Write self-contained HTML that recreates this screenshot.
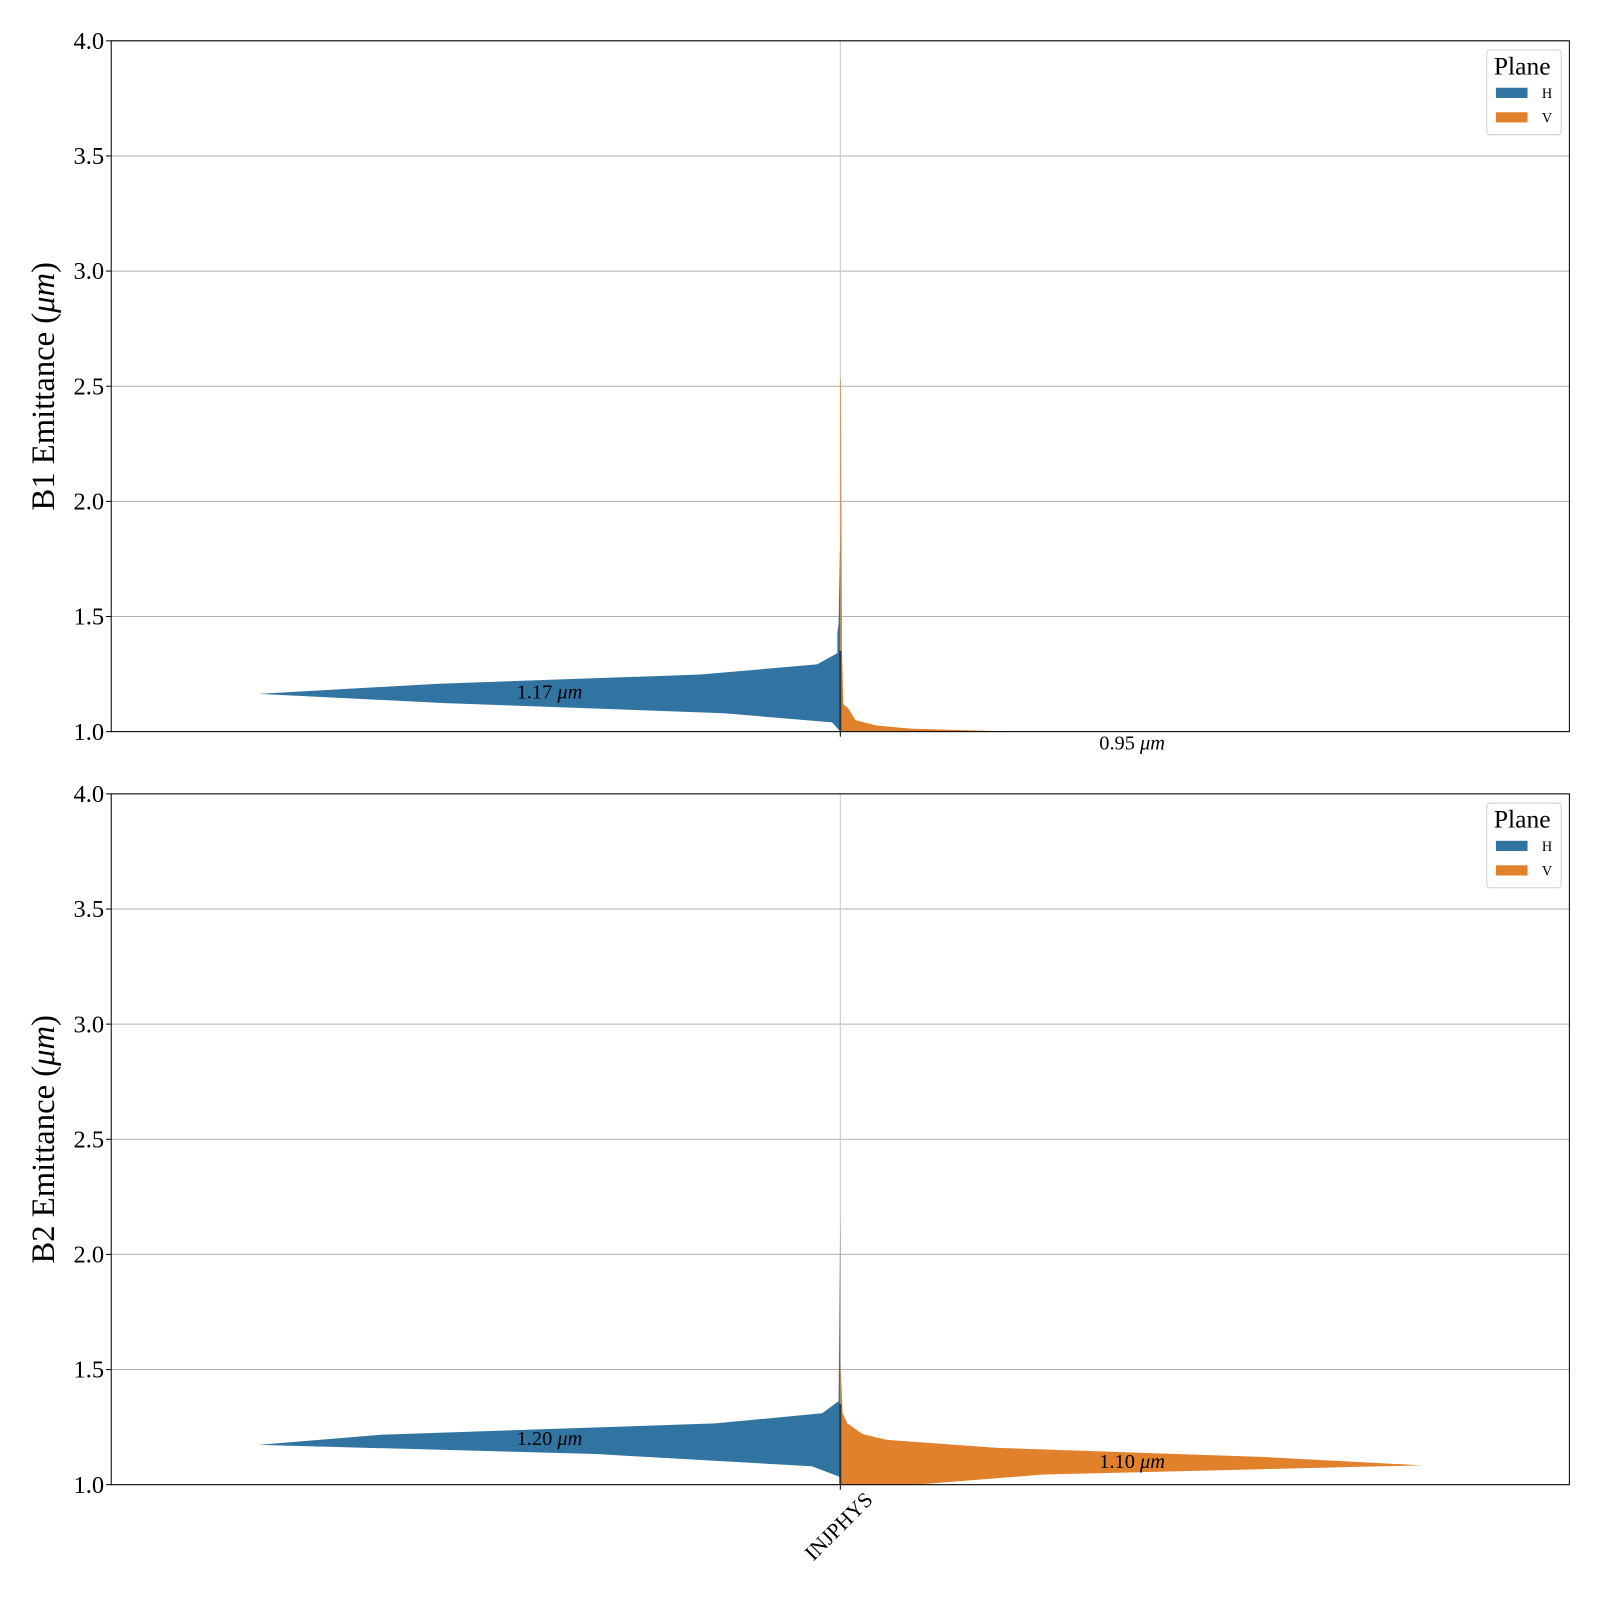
<!DOCTYPE html>
<html><head><meta charset="utf-8"><style>
body{margin:0;background:#fff}
svg{display:block;font-family:"Liberation Serif",serif}
</style></head><body>
<svg width="1600" height="1600" viewBox="0 0 1600 1600" xmlns="http://www.w3.org/2000/svg"><g id="chart" transform="scale(1.0204)"></g></svg>
<script>
const categories = ["INJPHYS"];
const yTicks = [1.0, 1.5, 2.0, 2.5, 3.0, 3.5, 4.0];
// half-violin outlines: [emittance value, relative density]
const b1H = [[1.00,0],[1.04,0.014],[1.08,0.20],[1.124,0.68],[1.164,1.0],[1.208,0.69],[1.248,0.24],[1.292,0.04],[1.341,0.005],[1.43,0.005],[1.47,0.003],[1.87,0]];
const b1V = [[0.90,0.30],[1.00,0.30],[1.013,0.12],[1.027,0.061],[1.05,0.026],[1.10,0.014],[1.12,0.005],[1.35,0.003],[2.53,0.001]];
const b2H = [[1.0,0],[1.035,0.002],[1.08,0.049],[1.133,0.42],[1.173,1.0],[1.217,0.79],[1.266,0.215],[1.31,0.031],[1.363,0.003],[1.6,0.002],[2.2,0]];
const b2V = [[0.95,0.05],[1.0,0.13],[1.044,0.35],[1.084,1.0],[1.12,0.73],[1.16,0.27],[1.195,0.079],[1.22,0.038],[1.266,0.012],[1.31,0.004],[1.55,0]];
const medianLabels = [["1.17","0.95"],["1.20","1.10"]];
const medianValues = [[1.17,0.95],[1.20,1.10]];
const panels = [{top:40,title:"B1 Emittance (",H:b1H,V:b1V},{top:778,title:"B2 Emittance (",H:b2H,V:b2V}];

const svg = document.getElementById('chart');
const NS = 'http://www.w3.org/2000/svg';
const L = 109, R = 1538, PH = 677;
const xScale = i => L + (R - L) * (i + 0.5) / categories.length;
const widthScale = d => d * 570;
function mk(tag, attrs, parent){const e=document.createElementNS(NS,tag);for(const k in attrs)e.setAttribute(k,attrs[k]);(parent||svg).appendChild(e);return e;}

panels.forEach((p, pi) => {
  const yScale = v => p.top + PH - (v - 1) / 3 * PH;
  const g = mk('g', {});
  
  
  const cid = 'clip' + pi;
  const cp = mk('clipPath', {id: cid}, g);
  mk('rect', {x: L, y: p.top, width: R - L, height: PH}, cp);
  yTicks.forEach(t => {
    const gl = mk('line', {x1: L, x2: R, y1: yScale(t), y2: yScale(t), stroke: '#b0b0b0', 'stroke-width': 1}, g);
    
    
    mk('line', {x1: L - 5, x2: L, y1: yScale(t), y2: yScale(t), stroke: '#000'}, g);
    const tl = mk('text', {x: L - 7, y: yScale(t) + 8, 'text-anchor': 'end', 'font-size': 24}, g);
    tl.textContent = t.toFixed(1);
    
    
  });
  categories.forEach((c, ci) => {
    const cx = xScale(ci);
    mk('line', {x1: cx, x2: cx, y1: p.top, y2: p.top + PH, stroke: '#c8c8c8', 'stroke-width': 1}, g);
    mk('line', {x1: cx, x2: cx, y1: p.top + PH, y2: p.top + PH + 5, stroke: '#000'}, g);
    const vg = mk('g', {'clip-path': 'url(#' + cid + ')'}, g);
    let ptsH = p.H.map(([v, d]) => (cx - widthScale(d)) + ',' + yScale(v));
    ptsH = [cx + ',' + yScale(p.H[0][0])].concat(ptsH, [cx + ',' + yScale(p.H[p.H.length - 1][0])]);
    const hp = mk('polygon', {points: ptsH.join(' '), fill: '#3274a1'}, vg);
    
    
    let ptsV = p.V.map(([v, d]) => (cx + widthScale(d)) + ',' + yScale(v));
    ptsV = [cx + ',' + yScale(p.V[0][0])].concat(ptsV, [cx + ',' + yScale(p.V[p.V.length - 1][0])]);
    const vp = mk('polygon', {points: ptsV.join(' '), fill: '#e1812c'}, vg);
    
    
    mk('line', {x1: cx, x2: cx, y1: yScale(1.35), y2: p.top + PH, stroke: '#333', 'stroke-width': 2}, vg);
    const lh = mk('text', {x: cx - 285, y: yScale(medianValues[pi][0]) + 6, 'text-anchor': 'middle', 'font-size': 20}, g);
    lh.innerHTML = medianLabels[pi][0] + ' <tspan font-style="italic">μm</tspan>';
    
    
    const lv = mk('text', {x: cx + 286, y: yScale(medianValues[pi][1]) + 6, 'text-anchor': 'middle', 'font-size': 20}, g);
    lv.innerHTML = medianLabels[pi][1] + ' <tspan font-style="italic">μm</tspan>';
    
    
    if (pi === 1) {
      const ax = cx + 33, ay = p.top + PH + 16;
      const xl = mk('text', {x: ax, y: ay, 'text-anchor': 'end', 'font-size': 21, transform: 'rotate(-45 ' + ax + ' ' + ay + ')'}, g);
      xl.textContent = c;
      
      
    }
  });
  mk('rect', {x: L, y: p.top, width: R - L, height: PH, fill: 'none', stroke: '#000', 'stroke-width': 1}, g);
  const yt = mk('text', {x: 0, y: 0, 'text-anchor': 'middle', 'font-size': 32, transform: 'translate(53 ' + (p.top + PH / 2) + ') rotate(-90)'}, g);
  yt.innerHTML = p.title + '<tspan font-style="italic">μm</tspan>)';
  
  
  const lg = mk('g', {}, g);
  
  
  mk('rect', {x: 1457, y: p.top + 9, width: 73, height: 83, rx: 3, fill: '#fff', stroke: '#d0d0d0'}, lg);
  const lt = mk('text', {x: 1464, y: p.top + 33, 'font-size': 25}, lg);
  lt.textContent = 'Plane';
  [['H', '#3274a1'], ['V', '#e1812c']].forEach(([n, col], k) => {
    const yy = p.top + 46 + k * 24;
    const sw = mk('rect', {x: 1466, y: yy, width: 31, height: 10, fill: col}, lg);
    
    
    const tx = mk('text', {x: 1511, y: yy + 10, 'font-size': 14}, lg);
    tx.textContent = n;
  });
});
</script>
</body></html>
